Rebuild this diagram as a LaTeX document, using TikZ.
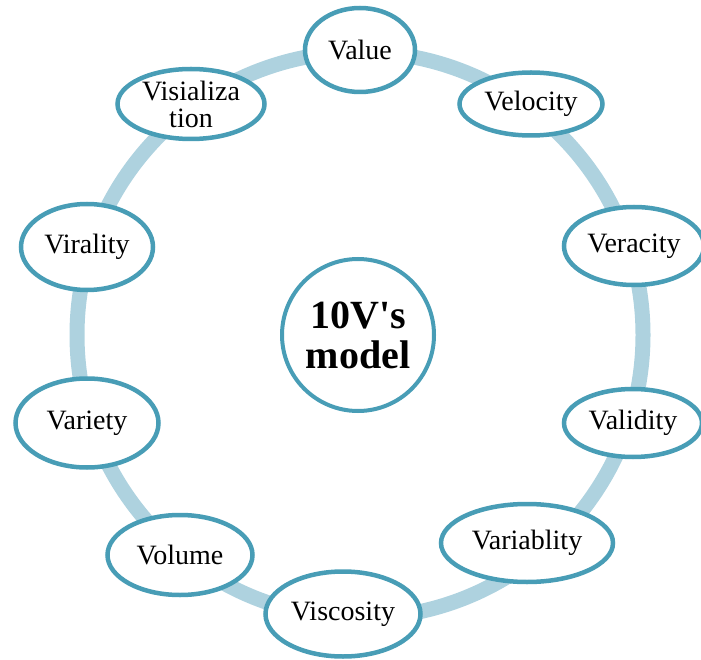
\documentclass[tikz,border=0pt]{standalone}
\usepackage{fontspec}
\setmainfont{Liberation Serif}
\usetikzlibrary{shapes.geometric}
\definecolor{ringblue}{RGB}{174,210,223}
\definecolor{edgeblue}{RGB}{72,157,182}
\begin{document}
\begin{tikzpicture}[x=1pt,y=-1pt,
  vbox/.style={ellipse, draw=edgeblue, line width=4.5pt, fill=white,
    inner sep=0pt, font=\fontsize{28}{27}\selectfont, align=center},
  hub/.style={circle, draw=edgeblue, line width=4pt, fill=white,
    minimum size=152pt, inner sep=0pt, align=center,
    font=\fontsize{40}{40}\selectfont\bfseries}]
\useasboundingbox (0,0) rectangle (701,660);
% outer ring joining the ten V's
\coordinate (c) at (360,335);
\draw[ringblue, line width=15pt] (c) circle[radius=283pt];
% centre
\node[hub] (model) at (358,335) {10V\textquotesingle s\\model};
% the ten V's
\node[vbox, minimum width=110pt, minimum height=84pt] (value) at (360,50) {Value};
\node[vbox, minimum width=143pt, minimum height=63pt] (velocity) at (531,104) {Velocity};
\node[vbox, minimum width=140pt, minimum height=78pt] (veracity) at (634,246) {Veracity};
\node[vbox, minimum width=138pt, minimum height=68pt] (validity) at (633,423) {Validity};
\node[vbox, minimum width=172pt, minimum height=78pt] (variablity) at (527,543) {Variablity};
\node[vbox, minimum width=155pt, minimum height=85pt] (viscosity) at (343,614) {Viscosity};
\node[vbox, minimum width=145pt, minimum height=80pt] (volume) at (180,555) {Volume};
\node[vbox, minimum width=143pt, minimum height=89pt] (variety) at (87,423) {Variety};
\node[vbox, minimum width=132pt, minimum height=86pt] (virality) at (87,247) {Virality};
\node[vbox, minimum width=147pt, minimum height=70pt] (visialization) at (191,104) {Visializa\\tion};
\end{tikzpicture}
\end{document}
